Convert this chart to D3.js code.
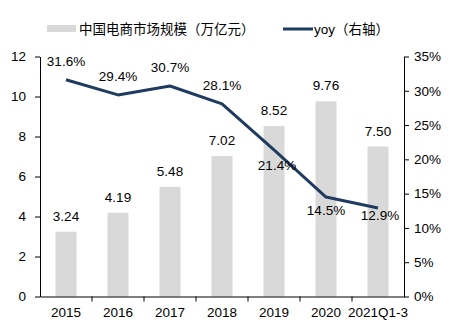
<!DOCTYPE html>
<html><head><meta charset="utf-8">
<script src="https://cdn.jsdelivr.net/npm/d3@7"></script>
<style>body{margin:0;background:#fff}svg{display:block}text{font-family:"Liberation Sans",Arial,"Noto Sans CJK SC",sans-serif;fill:#000}</style>
</head><body>
<script>
const categories = ["2015","2016","2017","2018","2019","2020","2021Q1-3"];
const marketSize = [3.24,4.19,5.48,7.02,8.52,9.76,7.50];
const yoy = [31.6,29.4,30.7,28.1,21.4,14.5,12.9];
const leftTicks = [0,2,4,6,8,10,12];
const rightTicks = [0,5,10,15,20,25,30,35];
const yoyLabelOffsets = [-14,-14,-14,-14,20,18,12];
const barName = "中国电商市场规模（万亿元）";
const lineName = "yoy（右轴）";

const W=465,H=332;
const svg=d3.select("body").append("svg").attr("width",W).attr("height",H);
const x=d3.scaleBand().domain(categories).range([40,404]).paddingInner(0).paddingOuter(0);
const yL=d3.scaleLinear().domain([0,12]).range([296.5,56.5]);
const yR=d3.scaleLinear().domain([0,35]).range([296.5,56.5]);
const barW=21;
const fs=13.5;

// bars
svg.selectAll("rect.bar").data(categories).enter().append("rect")
 .attr("x",d=>x(d)+x.bandwidth()/2-barW/2).attr("width",barW)
 .attr("y",(d,i)=>yL(marketSize[i])).attr("height",(d,i)=>yL(0)-yL(marketSize[i]))
 .attr("fill","#d9d9d9");

// axes
const axL=svg.append("g").attr("transform","translate(40,0)")
 .call(d3.axisLeft(yL).tickValues(leftTicks).tickSize(5).tickSizeOuter(0).tickFormat(d3.format("d")));
const axR=svg.append("g").attr("transform","translate(404,0)")
 .call(d3.axisRight(yR).tickValues(rightTicks).tickSize(5).tickSizeOuter(0).tickFormat(d=>d+"%"));
const axB=svg.append("g").attr("transform","translate(0,296.5)")
 .call(d3.axisBottom(x).tickSize(5).tickSizeOuter(0));
axB.selectAll(".tick line").attr("transform",`translate(${x.bandwidth()/2},0)`);
axB.selectAll(".tick").filter((d,i)=>i===categories.length-1).select("line").remove();
[axL,axR,axB].forEach(a=>{a.selectAll("path,line").attr("stroke","#000").attr("stroke-width",1);
 a.selectAll("text").attr("font-size",fs).attr("fill","#000");});
axL.selectAll("text").attr("x",-14);
axR.selectAll("text").attr("x",10);
axB.selectAll("text").attr("y",11);

// line
const line=d3.line().x((d,i)=>x(categories[i])+x.bandwidth()/2).y(d=>yR(d));
svg.append("path").datum(yoy).attr("d",line).attr("fill","none")
 .attr("stroke","#1f3b60").attr("stroke-width",3).attr("stroke-linejoin","round");

// bar labels
svg.selectAll("text.bl").data(marketSize).enter().append("text")
 .attr("x",(d,i)=>x(categories[i])+x.bandwidth()/2).attr("y",d=>yL(d)-11)
 .attr("text-anchor","middle").attr("font-size",fs).text(d=>d.toFixed(2));

// line labels
svg.selectAll("text.ll").data(yoy).enter().append("text")
 .attr("x",(d,i)=>x(categories[i])+x.bandwidth()/2+(i===4?3:i===6?2:0))
 .attr("y",(d,i)=>yR(d)+yoyLabelOffsets[i])
 .attr("text-anchor","middle").attr("font-size",fs).text(d=>d.toFixed(1)+"%");

// legend
const lg=svg.append("g");
lg.append("rect").attr("x",47).attr("y",25).attr("width",29).attr("height",7).attr("fill","#d9d9d9");
lg.append("text").attr("x",79).attr("y",33.5).attr("font-size",fs).text(barName);
lg.append("line").attr("x1",283).attr("x2",313).attr("y1",29).attr("y2",29).attr("stroke","#1f3b60").attr("stroke-width",3);
lg.append("text").attr("x",314).attr("y",33.5).attr("font-size",fs).text(lineName);
</script>
</body></html>
